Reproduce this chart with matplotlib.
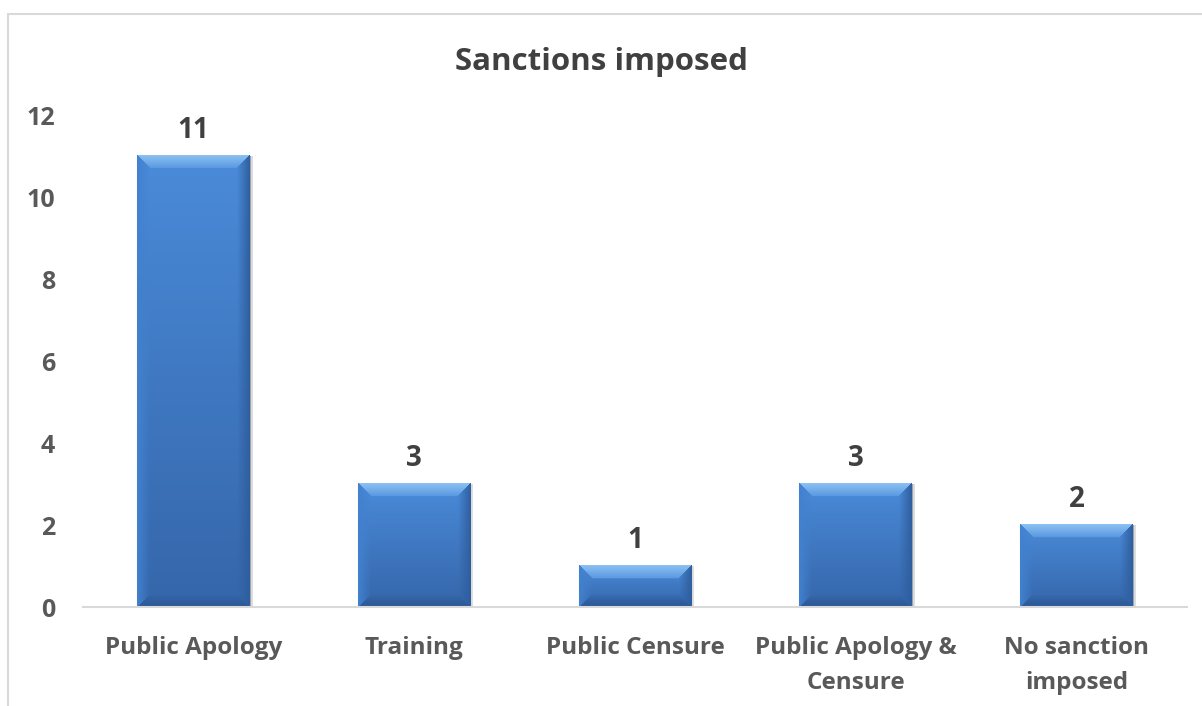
import numpy as np
import matplotlib
matplotlib.use('Agg')
from matplotlib import pyplot as plt
from matplotlib.colors import to_rgb
from matplotlib.patches import Rectangle

categories = ['Public Apology', 'Training', 'Public Censure',
              'Public Apology &\nCensure', 'No sanction\nimposed']
counts = [11, 3, 1, 3, 2]
y_ticks = [0, 2, 4, 6, 8, 10, 12]

plt.rcParams['font.family'] = ['Open Sans', 'DejaVu Sans']
plt.rcParams['font.weight'] = 'bold'

DPI = 100
fig = plt.figure(figsize=(12.02, 7.06), dpi=DPI)
ax = fig.add_axes([0.069, 0.140, 0.9185, 0.697])

ax.set_xlim(-0.5, len(categories) - 0.5)
ax.set_ylim(0, 12)

bar_w = 0.51
x = np.arange(len(categories))
bars = ax.bar(x, counts, width=bar_w, color='#4584d3', edgecolor='#9aa4b0',
              linewidth=0.8, zorder=2)

# bevelled bar fill: one small rgb image per bar
face_top = np.array(to_rgb('#4a8bd9'))
face_bot = np.array(to_rgb('#3566aa'))
top_in = np.array(to_rgb('#5a98e0'))
top_out = np.array(to_rgb('#8cc2f4'))
right_c = np.array(to_rgb('#2f5e9e'))
left_c = np.array(to_rgb('#4281cf'))
bot_c = np.array(to_rgb('#2b5896'))
bevel = 13.0

fig.canvas.draw()
px_per_x = ax.transData.transform((1, 0))[0] - ax.transData.transform((0, 0))[0]
px_per_y = ax.transData.transform((0, 1))[1] - ax.transData.transform((0, 0))[1]

for b in bars:
    x0, w, h = b.get_x(), b.get_width(), b.get_height()
    W = max(int(round(w * px_per_x)), 2)
    H = max(int(round(h * px_per_y)), 2)
    u = (np.arange(W) + 0.5)[None, :].repeat(H, 0)
    v = (np.arange(H)[::-1] + 0.5)[:, None].repeat(W, 1)
    d_left, d_right = u, W - u
    d_top, d_bot = H - v, v
    t = (v / H)[..., None]
    img = face_bot * (1 - t) + face_top * t
    dists = np.stack([d_left, d_right, d_top, d_bot])
    side = dists.argmin(0)
    dmin = dists.min(0)
    inb = dmin < bevel
    s = (dmin / bevel)[..., None]
    top_col = top_out * (1 - s) + top_in * s
    right_col = right_c * (1 - s) + img * s
    left_col = left_c * (1 - s) + img * s
    bot_col = bot_c * (1 - s) + img * s
    img = np.where((inb & (side == 2))[..., None], top_col, img)
    img = np.where((inb & (side == 1))[..., None], right_col, img)
    img = np.where((inb & (side == 0))[..., None], left_col, img)
    img = np.where((inb & (side == 3))[..., None], bot_col, img)
    ax.imshow(img, extent=(x0, x0 + w, 0, h), aspect='auto',
              interpolation='bilinear', zorder=3)
    # soft shadow on the right
    ax.add_patch(Rectangle((x0 + w, 0), 3 / px_per_x, h, color='#c8c8c8',
                           alpha=0.6, linewidth=0, zorder=1))

ax.set_xlim(-0.5, len(categories) - 0.5)
ax.set_ylim(0, 12)

for xi, c in zip(x, counts):
    ax.annotate(str(c), (xi, c), xytext=(0, 8), textcoords='offset points',
                ha='center', va='bottom', fontsize=20, fontweight='bold',
                color='#404040')

ax.set_xticks(x)
ax.set_xticklabels(categories, fontsize=17.5, fontweight='bold', color='#595959',
                   linespacing=1.6)
ax.set_yticks(y_ticks)
ax.set_yticklabels([str(t) for t in y_ticks], fontsize=18, fontweight='bold',
                   color='#595959')
ax.tick_params(axis='both', length=0)
ax.tick_params(axis='y', pad=20)
ax.tick_params(axis='x', pad=21)
for sp in ['left', 'right', 'top']:
    ax.spines[sp].set_visible(False)
ax.spines['bottom'].set_color('#d9d9d9')
ax.spines['bottom'].set_linewidth(1.5)
ax.spines['bottom'].set_zorder(4)

fig.text(0.5, 0.912, 'Sanctions imposed', ha='center', va='center',
         fontsize=22.5, fontweight='bold', color='#404040')

# chart frame
fig.patches.append(Rectangle((8 / 1202, -0.1), 2.0, 0.98 + 0.1,
                             transform=fig.transFigure, fill=False,
                             edgecolor='#d9d9d9', linewidth=1.5))

fig.savefig('out.png', dpi=DPI)
